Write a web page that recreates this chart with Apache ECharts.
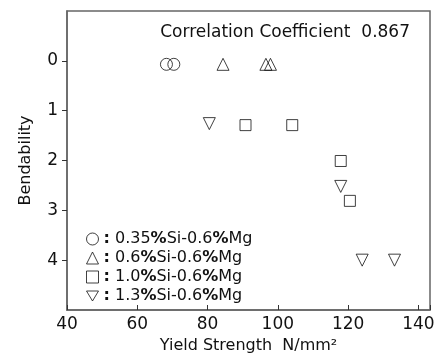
<!DOCTYPE html>
<html>
<head>
<meta charset="utf-8">
<script src="https://cdn.jsdelivr.net/npm/echarts@6/dist/echarts.min.js"></script>
<style>
body{margin:0;background:#fff;}
#chart{width:445px;height:354px;}
</style>
</head>
<body>
<div id="chart"></div>
<script>

const xTicks=[40,60,80,100,120,140]
const yTicks=[0,1,2,3,4]

const names=["0.35%Si-0.6%Mg","0.6%Si-0.6%Mg","1.0%Si-0.6%Mg","1.3%Si-0.6%Mg"]

const si035=[[68.3,0.07],[70.4,0.07]]
const si06=[[84.4,0.07],[96.6,0.07],[97.9,0.07]]
const si10=[[90.8,1.29],[104.1,1.29],[117.9,2.01],[120.5,2.81]]
const si13=[[80.5,1.26],[117.9,2.52],[124.0,4.0],[133.2,4.0]]

const font="DejaVu Sans"
const hollow={color:"rgba(0,0,0,0)",borderColor:"#111",borderWidth:1}

function series(name,data,symbol,rotate,size){
  return {
    name:name,
    type:"scatter",
    data:data,
    symbol:symbol,
    symbolRotate:rotate,
    symbolSize:size,
    itemStyle:hollow,
    emphasis:{disabled:true}
  }
}

const chart=echarts.init(document.getElementById("chart"))

chart.setOption({
  animation:false,
  title:{
    text:"Correlation Coefficient  0.867",
    right:30,
    top:19,
    textStyle:{fontFamily:font,fontSize:17,fontWeight:"normal",color:"#111"}
  },
  legend:{
    orient:"vertical",
    left:81,
    top:226,
    itemGap:3,
    itemWidth:12,
    itemHeight:12,
    itemStyle:hollow,
    data:[
      {name:names[0],icon:"circle"},
      {name:names[1],icon:"triangle"},
      {name:names[2],icon:"rect"},
      {name:names[3],icon:"path://M0,0L12,0L6,10Z"}
    ],
    formatter:function(n){
      return "{b|:} "+n.replace(/%/g,"{b|%}")
    },
    textStyle:{
      fontFamily:font,fontSize:16,color:"#111",
      rich:{b:{fontFamily:font,fontSize:16,fontWeight:"bold",color:"#111"}}
    }
  },
  grid:{
    left:67,right:15,top:11,bottom:44,
    outerBoundsMode:"none",
    containLabel:false,
    show:true,borderColor:"#666",borderWidth:1.5
  },
  xAxis:{
    type:"value",
    min:40,max:143.3,interval:20,
    name:"Yield Strength  N/mm²",
    nameLocation:"middle",
    nameGap:26,
    nameTextStyle:{fontFamily:font,fontSize:16,color:"#111"},
    axisLine:{onZero:false,lineStyle:{color:"#666",width:1.5}},
    axisTick:{inside:true,length:5,lineStyle:{color:"#333"}},
    axisLabel:{
      fontFamily:font,fontSize:17,color:"#111",margin:6,
      formatter:function(v){return xTicks.indexOf(v)>=0?String(v):""}
    },
    splitLine:{show:false}
  },
  yAxis:{
    type:"value",
    inverse:true,
    min:-1,max:5,interval:1,
    name:"Bendability",
    nameLocation:"middle",
    nameGap:33,
    nameTextStyle:{fontFamily:font,fontSize:16,color:"#111"},
    axisLine:{onZero:false,lineStyle:{color:"#666",width:1.5}},
    axisTick:{length:5,lineStyle:{color:"#333"},
      customValues:yTicks},
    axisLabel:{
      fontFamily:font,fontSize:17,color:"#111",margin:9,
      customValues:yTicks
    },
    splitLine:{show:false}
  },
  series:[
    series(names[0],si035,"circle",0,12),
    series(names[1],si06,"triangle",0,12),
    series(names[2],si10,"rect",0,11),
    series(names[3],si13,"triangle",180,12)
  ]
})

</script>
</body>
</html>
